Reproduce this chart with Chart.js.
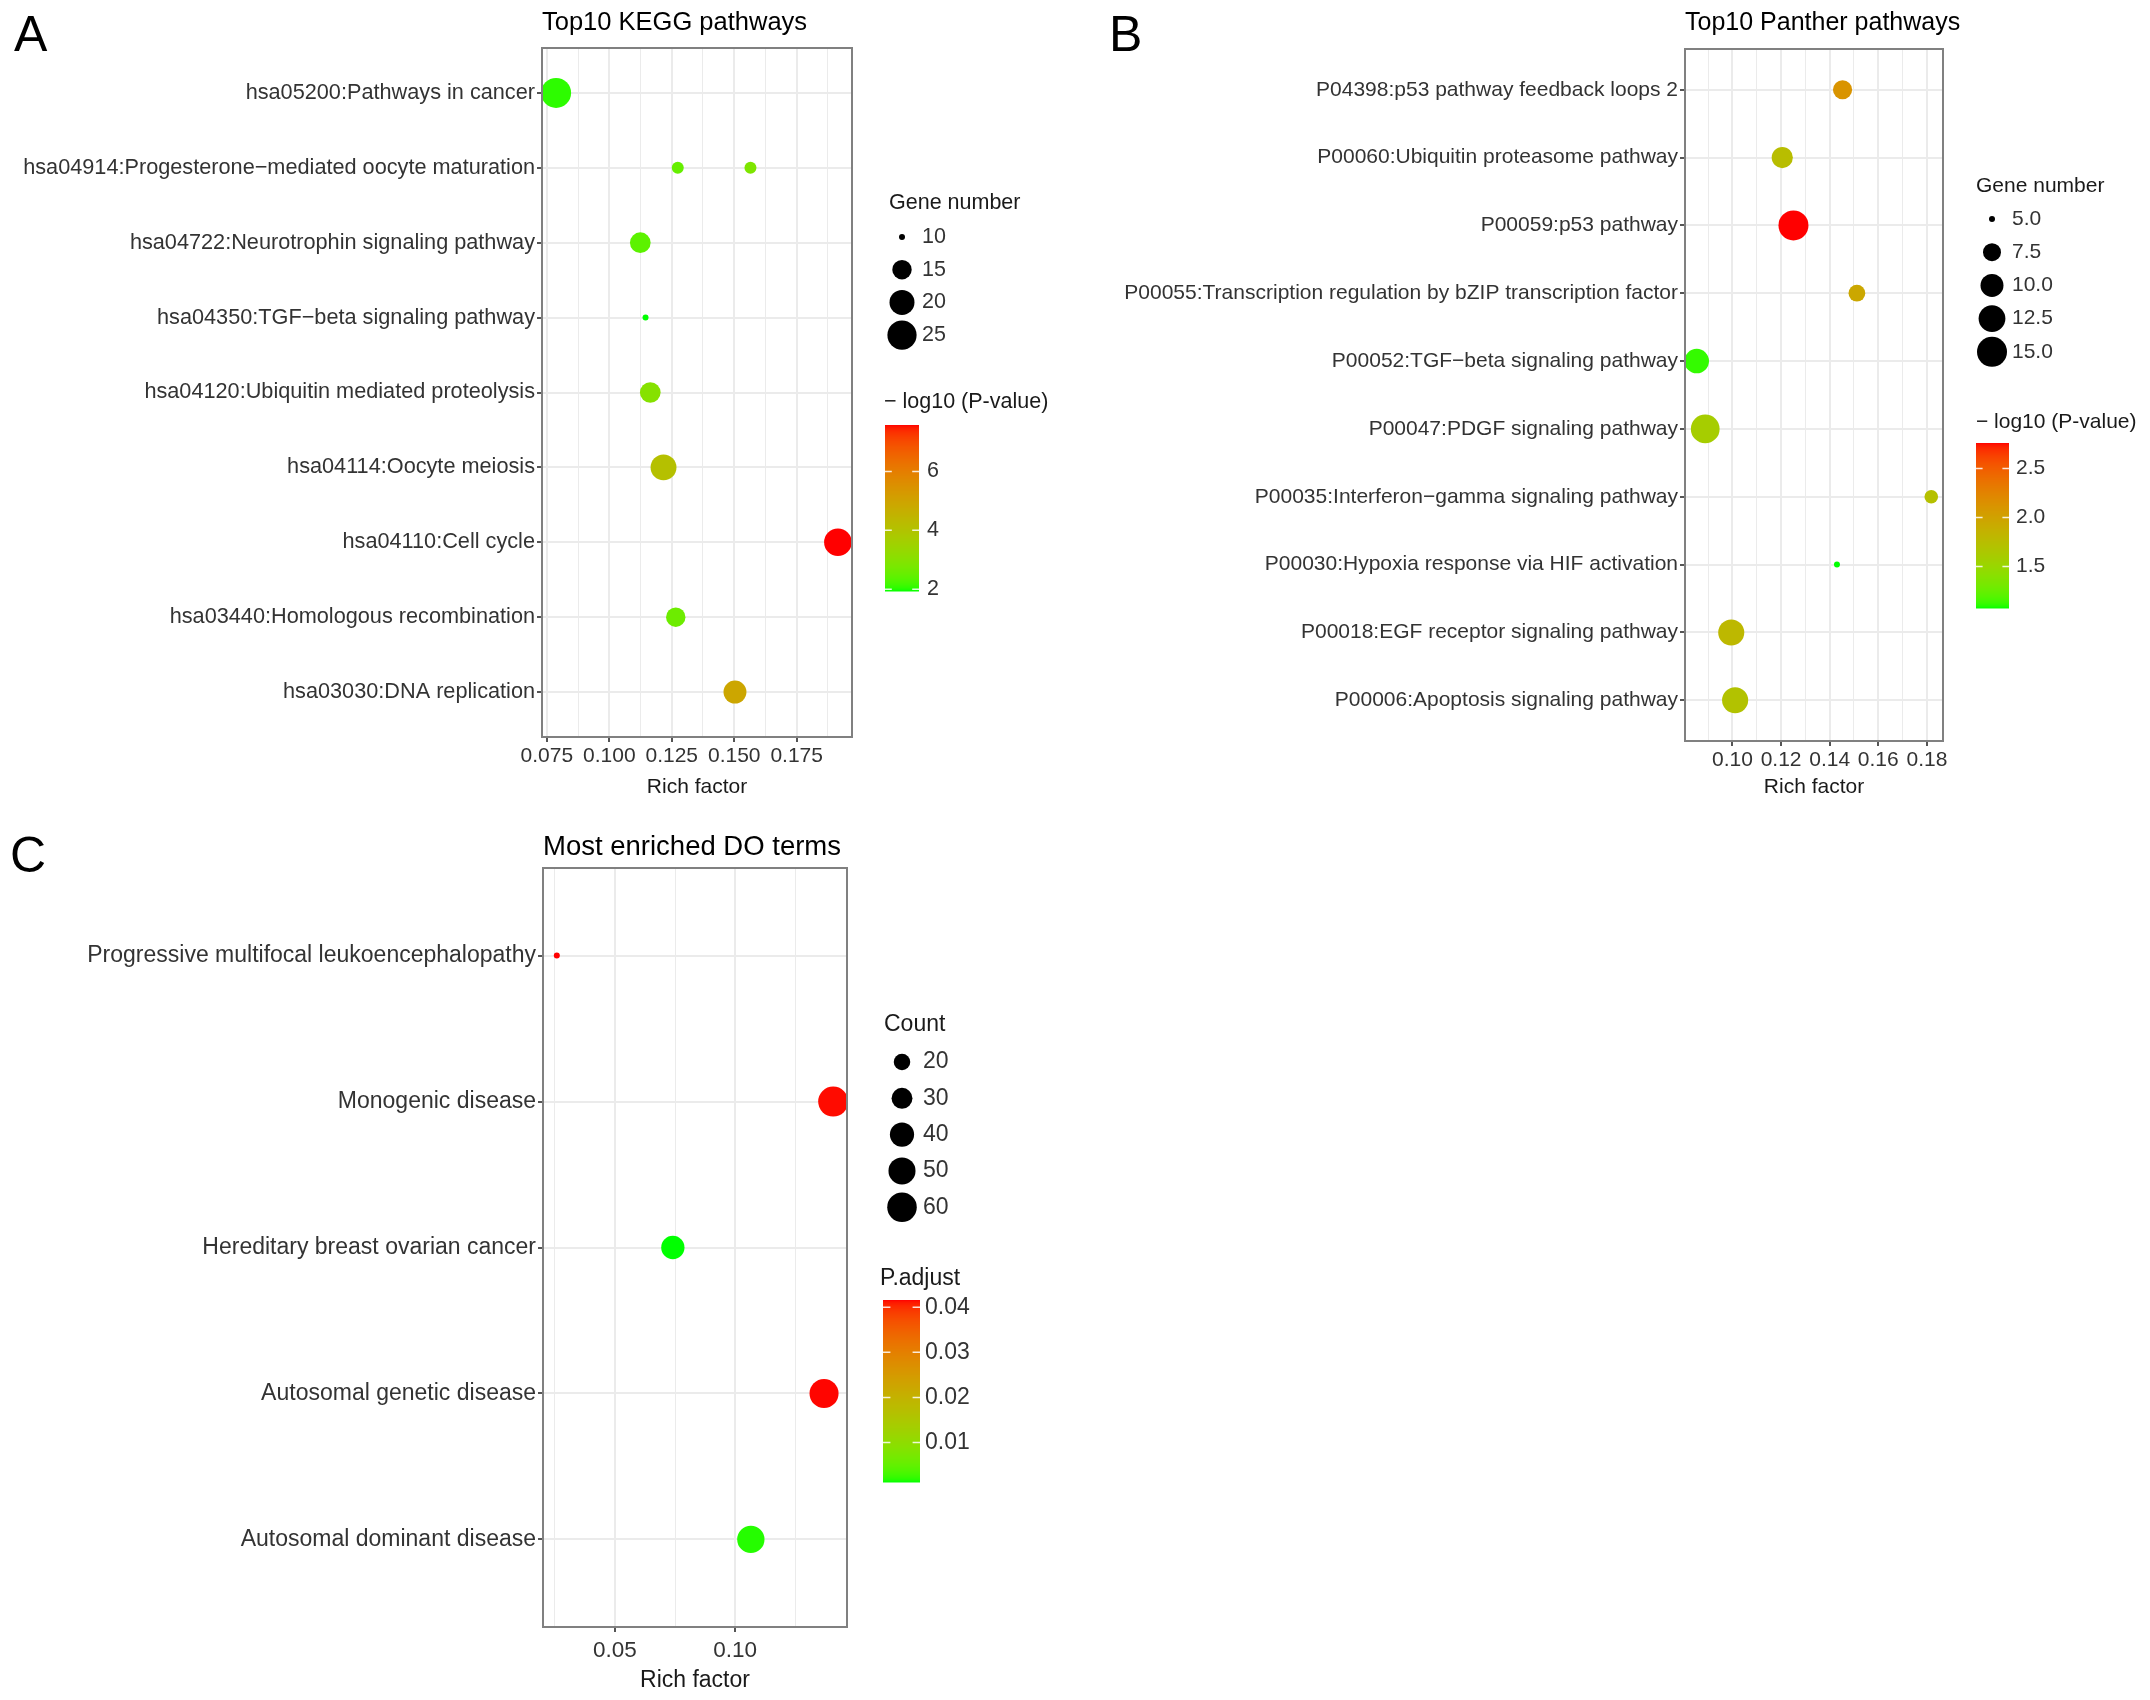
<!DOCTYPE html>
<html>
<head>
<meta charset="utf-8">
<script src="https://cdn.jsdelivr.net/npm/chart.js"></script>
<style>
  html, body { margin: 0; padding: 0; background: #ffffff; }
  #wrap { position: relative; width: 2150px; height: 1700px; background: #ffffff; }
  #wrap canvas { position: absolute; left: 0; top: 0; }
  .panel-letter { position: absolute; font-family: 'Liberation Sans', Arial, Helvetica, sans-serif;
    font-size: 50px; line-height: 50px; color: #000; }
</style>
</head>
<body>
<div id="wrap">
  <canvas id="cA" width="2150" height="1700"></canvas>
  <canvas id="cB" width="2150" height="1700"></canvas>
  <canvas id="cC" width="2150" height="1700"></canvas>
  <div class="panel-letter" style="left:14px;top:9px;">A</div>
  <div class="panel-letter" style="left:1109px;top:9px;">B</div>
  <div class="panel-letter" style="left:10px;top:830px;">C</div>
</div>
<script>
// ---------------- DATA ----------------
// Panel A: Top10 KEGG pathways (one term appears twice)
const keggTitle = 'Top10 KEGG pathways';
const keggTerms = [
  'hsa05200:Pathways in cancer',
  'hsa04914:Progesterone\u2212mediated oocyte maturation',
  'hsa04914:Progesterone\u2212mediated oocyte maturation',
  'hsa04722:Neurotrophin signaling pathway',
  'hsa04350:TGF\u2212beta signaling pathway',
  'hsa04120:Ubiquitin mediated proteolysis',
  'hsa04114:Oocyte meiosis',
  'hsa04110:Cell cycle',
  'hsa03440:Homologous recombination',
  'hsa03030:DNA replication'
];
const keggRichFactor = [0.0787, 0.1274, 0.1565, 0.1124, 0.1145, 0.1164, 0.1217, 0.1915, 0.1266, 0.1503];
const keggGeneNumber = [26, 11, 11, 16, 10, 16, 21, 23, 15, 18];
const keggLogP       = [2.05, 2.5, 2.85, 2.4, 1.94, 3.0, 4.1, 7.58, 2.6, 4.9];
const keggXTicks     = ['0.075', '0.100', '0.125', '0.150', '0.175'];
const keggSizeBreaks = [10, 15, 20, 25];
const keggSizeLabels = ['10', '15', '20', '25'];
const keggColorBreaks = [6, 4, 2];
const keggColorLabels = ['6', '4', '2'];

// Panel B: Top10 Panther pathways
const pantherTitle = 'Top10 Panther pathways';
const pantherTerms = [
  'P04398:p53 pathway feedback loops 2',
  'P00060:Ubiquitin proteasome pathway',
  'P00059:p53 pathway',
  'P00055:Transcription regulation by bZIP transcription factor',
  'P00052:TGF\u2212beta signaling pathway',
  'P00047:PDGF signaling pathway',
  'P00035:Interferon\u2212gamma signaling pathway',
  'P00030:Hypoxia response via HIF activation',
  'P00018:EGF receptor signaling pathway',
  'P00006:Apoptosis signaling pathway'
];
const pantherRichFactor = [0.1453, 0.1205, 0.1251, 0.1512, 0.0853, 0.0888, 0.1818, 0.1430, 0.0995, 0.1011];
const pantherGeneNumber = [8, 9, 15, 7, 11, 14, 6, 5, 12, 12];
const pantherLogP       = [2.12, 1.75, 2.76, 1.95, 1.12, 1.6, 1.72, 1.077, 1.8, 1.7];
const pantherXTicks     = ['0.10', '0.12', '0.14', '0.16', '0.18'];
const pantherSizeBreaks = [5, 7.5, 10, 12.5, 15];
const pantherSizeLabels = ['5.0', '7.5', '10.0', '12.5', '15.0'];
const pantherColorBreaks = [2.5, 2.0, 1.5];
const pantherColorLabels = ['2.5', '2.0', '1.5'];

// Panel C: Most enriched DO terms
const doTitle = 'Most enriched DO terms';
const doTerms = [
  'Progressive multifocal leukoencephalopathy',
  'Monogenic disease',
  'Hereditary breast ovarian cancer',
  'Autosomal genetic disease',
  'Autosomal dominant disease'
];
const doRichFactor = [0.0259, 0.1407, 0.0741, 0.1369, 0.1065];
const doCount      = [10, 62, 37, 58, 51];
const doPAdjust    = [0.0416, 0.0414, 0.00124, 0.0415, 0.0018];
const doXTicks     = ['0.05', '0.10'];
const doSizeBreaks = [20, 30, 40, 50, 60];
const doSizeLabels = ['20', '30', '40', '50', '60'];
const doColorBreaks = [0.04, 0.03, 0.02, 0.01];
const doColorLabels = ['0.04', '0.03', '0.02', '0.01'];

// ---------------- STYLE / HELPERS ----------------
const FONT = "'Liberation Sans', Arial, Helvetica, sans-serif";
const R_MIN = 3, R_MAX = 15;
const W = 2150, H = 1700;

function srgbToLin(c) { c /= 255; return c <= 0.04045 ? c / 12.92 : Math.pow((c + 0.055) / 1.055, 2.4); }
function linToSrgb(c) { c = c <= 0.0031308 ? 12.92 * c : 1.055 * Math.pow(Math.max(c, 0), 1 / 2.4) - 0.055; return Math.round(Math.max(0, Math.min(1, c)) * 255); }
const WX = 0.95047, WY = 1.0, WZ = 1.08883;
function rgbToLab(rgb) {
  const r = srgbToLin(rgb[0]), g = srgbToLin(rgb[1]), b = srgbToLin(rgb[2]);
  const X = (0.4124 * r + 0.3576 * g + 0.1805 * b) / WX;
  const Y = (0.2126 * r + 0.7152 * g + 0.0722 * b) / WY;
  const Z = (0.0193 * r + 0.1192 * g + 0.9505 * b) / WZ;
  const f = t => t > 0.008856 ? Math.cbrt(t) : (7.787 * t + 16 / 116);
  const fx = f(X), fy = f(Y), fz = f(Z);
  return [116 * fy - 16, 500 * (fx - fy), 200 * (fy - fz)];
}
function labToRgb(lab) {
  const fy = (lab[0] + 16) / 116, fx = fy + lab[1] / 500, fz = fy - lab[2] / 200;
  const inv = t => t * t * t > 0.008856 ? t * t * t : (t - 16 / 116) / 7.787;
  const X = inv(fx) * WX, Y = inv(fy) * WY, Z = inv(fz) * WZ;
  const r = 3.2406 * X - 1.5372 * Y - 0.4986 * Z;
  const g = -0.9689 * X + 1.8758 * Y + 0.0415 * Z;
  const b = 0.0557 * X - 0.2040 * Y + 1.0570 * Z;
  return [linToSrgb(r), linToSrgb(g), linToSrgb(b)];
}
const LAB_LOW = rgbToLab([0, 255, 0]);   // "green"
const LAB_HIGH = rgbToLab([255, 0, 0]);  // "red"
function colorScale(min, max) {
  return v => {
    const t = Math.max(0, Math.min(1, (v - min) / (max - min)));
    const lab = LAB_LOW.map((l, i) => l + (LAB_HIGH[i] - l) * t);
    const c = labToRgb(lab);
    return 'rgb(' + c[0] + ',' + c[1] + ',' + c[2] + ')';
  };
}
function sizeScale(min, max) {
  return v => R_MIN + (R_MAX - R_MIN) * Math.sqrt(Math.max(0, (v - min) / (max - min)));
}
const minOf = a => Math.min.apply(null, a), maxOf = a => Math.max.apply(null, a);

const legendCfg = {};

const boxPlugin = {
  id: 'panelBox',
  afterDatasetsDraw(chart) {
    const a = chart.chartArea, ctx = chart.ctx;
    ctx.save();
    ctx.strokeStyle = '#808080';
    ctx.lineWidth = 2;
    ctx.strokeRect(a.left, a.top, a.right - a.left, a.bottom - a.top);
    ctx.restore();
  }
};

const legendPlugin = {
  id: 'dotColorLegend',
  afterDraw(chart) {
    const o = legendCfg[chart.canvas.id];
    if (!o) return;
    const ctx = chart.ctx;
    ctx.save();
    ctx.textBaseline = 'middle';
    ctx.textAlign = 'left';
    // panel title, left-aligned with the panel
    ctx.font = o.titleFs + 'px ' + FONT;
    ctx.fillStyle = '#000';
    ctx.fillText(o.title, chart.chartArea.left, o.titleY);

    ctx.font = o.fs + 'px ' + FONT;
    const s = o.size;
    ctx.fillStyle = '#1a1a1a';
    ctx.fillText(s.title, s.titleX, s.titleY);
    for (let i = 0; i < s.breaks.length; i++) {
      const y = s.y0 + i * s.step;
      ctx.beginPath();
      ctx.arc(s.cx, y, s.fn(s.breaks[i]), 0, Math.PI * 2);
      ctx.fillStyle = '#000';
      ctx.fill();
      ctx.fillStyle = '#333';
      ctx.fillText(s.labels[i], s.labelX, y);
    }
    const c = o.color;
    ctx.fillStyle = '#1a1a1a';
    ctx.fillText(c.title, c.titleX, c.titleY);
    const h = c.bottom - c.top, w = c.right - c.left;
    for (let py = 0; py < h; py++) {
      const t = 1 - (py + 0.5) / h;
      ctx.fillStyle = c.fn(c.min + t * (c.max - c.min));
      ctx.fillRect(c.left, c.top + py, w, 1.5);
    }
    for (let i = 0; i < c.breaks.length; i++) {
      const y = c.bottom - (c.breaks[i] - c.min) / (c.max - c.min) * h;
      ctx.strokeStyle = 'rgba(255,255,255,0.85)';
      ctx.lineWidth = 1.5;
      ctx.beginPath();
      ctx.moveTo(c.left, y); ctx.lineTo(c.left + w * 0.2, y);
      ctx.moveTo(c.right - w * 0.2, y); ctx.lineTo(c.right, y);
      ctx.stroke();
      ctx.fillStyle = '#333';
      ctx.fillText(c.labels[i], c.labelX, y);
    }
    ctx.restore();
  }
};

function buildPanel(p) {
  const cats = [];
  p.terms.forEach(t => { if (cats.indexOf(t) < 0) cats.push(t); });
  const xMin0 = minOf(p.rich), xMax0 = maxOf(p.rich), span = xMax0 - xMin0;
  const xMin = xMin0 - 0.05 * span, xMax = xMax0 + 0.05 * span;
  const majors = p.xTicks.map(Number);
  const step = majors[1] - majors[0];
  const allTicks = [];
  for (let k = -2; k <= majors.length + 2; k++) {
    const major = majors[0] + k * step;
    const minor = major + step / 2;
    if (major >= xMin - 1e-9 && major <= xMax + 1e-9) allTicks.push(major);
    if (minor >= xMin - 1e-9 && minor <= xMax + 1e-9) allTicks.push(minor);
  }
  allTicks.sort((a, b) => a - b);
  const isMajor = v => majors.some(m => Math.abs(m - v) < 1e-9);
  const labelOf = v => { const i = majors.findIndex(m => Math.abs(m - v) < 1e-9); return i >= 0 ? p.xTicks[i] : ''; };

  const sFn = sizeScale(minOf(p.size), maxOf(p.size));
  const cMin = minOf(p.color), cMax = maxOf(p.color);
  const cFn = colorScale(cMin, cMax);

  const data = p.terms.map((t, i) => ({ x: p.rich[i], y: cats.indexOf(t), r: sFn(p.size[i]) }));
  const colors = p.color.map(cFn);

  const f = p.fonts;
  legendCfg[p.id] = {
    fs: f.legend, titleFs: f.title, title: p.title, titleY: p.titleY,
    size: Object.assign({ fn: sFn, breaks: p.sizeBreaks, labels: p.sizeLabels, title: p.sizeTitle }, p.sizeLayout),
    color: Object.assign({ fn: cFn, min: cMin, max: cMax, breaks: p.colorBreaks, labels: p.colorLabels, title: p.colorTitle }, p.colorLayout)
  };

  const area = p.area;
  const xh = p.xTitleOffset + 0.6 * f.axisTitle;
  new Chart(document.getElementById(p.id), {
    type: 'bubble',
    data: { datasets: [{ data: data, backgroundColor: colors, borderWidth: 0, hoverBorderWidth: 0, clip: 0 }] },
    plugins: [boxPlugin, legendPlugin],
    options: {
      responsive: false,
      maintainAspectRatio: false,
      devicePixelRatio: 1,
      animation: false,
      events: [],
      layout: {
        autoPadding: false,
        padding: { left: 0, top: area.top, right: W - area.right, bottom: H - area.bottom - xh }
      },
      plugins: {
        legend: { display: false },
        tooltip: { enabled: false },
        title: { display: false }
      },
      scales: {
        x: {
          type: 'linear', position: 'bottom', min: xMin, max: xMax,
          afterBuildTicks: ax => { ax.ticks = allTicks.map(v => ({ value: v })); },
          afterFit: ax => { ax.height = xh; },
          border: { display: false },
          grid: {
            color: '#ebebeb',
            lineWidth: ctx => (ctx.tick && isMajor(ctx.tick.value)) ? 2 : 1,
            tickColor: ctx => (ctx.tick && isMajor(ctx.tick.value)) ? '#555' : 'rgba(0,0,0,0)',
            tickWidth: 2, tickLength: 5, drawTicks: true
          },
          ticks: {
            autoSkip: false, maxRotation: 0, minRotation: 0, padding: p.xTickPad,
            color: '#333', font: { family: FONT, size: f.tick, lineHeight: 1.2 },
            callback: v => labelOf(v)
          },
          title: { display: true, text: 'Rich factor', color: '#1a1a1a', font: { family: FONT, size: f.axisTitle, lineHeight: 1.2 }, padding: 0 }
        },
        y: {
          type: 'linear', reverse: true, min: -0.6, max: cats.length - 0.4,
          afterBuildTicks: ax => { ax.ticks = cats.map((c, i) => ({ value: i })); },
          afterFit: ax => { ax.width = area.left; },
          border: { display: false },
          grid: { color: '#ebebeb', lineWidth: 2, tickColor: '#555', tickWidth: 2, tickLength: 5 },
          ticks: {
            autoSkip: false, padding: 2, color: '#333', font: { family: FONT, size: f.label },
            callback: v => cats[Math.round(v)] || ''
          }
        }
      }
    }
  });
}

try {
buildPanel({
  id: 'cA', title: keggTitle, terms: keggTerms, rich: keggRichFactor, size: keggGeneNumber, color: keggLogP,
  xTicks: keggXTicks, sizeBreaks: keggSizeBreaks, sizeLabels: keggSizeLabels, sizeTitle: 'Gene number',
  colorBreaks: keggColorBreaks, colorLabels: keggColorLabels, colorTitle: '\u2212 log10 (P-value)',
  fonts: { label: 21.7, tick: 21, axisTitle: 21, title: 25.5, legend: 21.5 },
  titleY: 23, xTitleOffset: 50, xTickPad: 2,
  area: { left: 542, right: 852, top: 48, bottom: 737 },
  sizeLayout: { titleX: 889, titleY: 203, cx: 902, y0: 237, step: 32.7, labelX: 922 },
  colorLayout: { titleX: 884, titleY: 402, left: 885, right: 919, top: 425, bottom: 591, labelX: 927 }
});

buildPanel({
  id: 'cB', title: pantherTitle, terms: pantherTerms, rich: pantherRichFactor, size: pantherGeneNumber, color: pantherLogP,
  xTicks: pantherXTicks, sizeBreaks: pantherSizeBreaks, sizeLabels: pantherSizeLabels, sizeTitle: 'Gene number',
  colorBreaks: pantherColorBreaks, colorLabels: pantherColorLabels, colorTitle: '\u2212 log10 (P-value)',
  fonts: { label: 21, tick: 21, axisTitle: 21, title: 25, legend: 21 },
  titleY: 23, xTitleOffset: 46, xTickPad: 2,
  area: { left: 1685, right: 1943, top: 49, bottom: 741 },
  sizeLayout: { titleX: 1976, titleY: 186, cx: 1992, y0: 219, step: 33.2, labelX: 2012 },
  colorLayout: { titleX: 1976, titleY: 422, left: 1976, right: 2009, top: 443, bottom: 608, labelX: 2016 }
});

buildPanel({
  id: 'cC', title: doTitle, terms: doTerms, rich: doRichFactor, size: doCount, color: doPAdjust,
  xTicks: doXTicks, sizeBreaks: doSizeBreaks, sizeLabels: doSizeLabels, sizeTitle: 'Count',
  colorBreaks: doColorBreaks, colorLabels: doColorLabels, colorTitle: 'P.adjust',
  fonts: { label: 23, tick: 22.5, axisTitle: 23, title: 27.5, legend: 23 },
  titleY: 847, xTitleOffset: 54, xTickPad: 5,
  area: { left: 543, right: 847, top: 868, bottom: 1627 },
  sizeLayout: { titleX: 884, titleY: 1025, cx: 902, y0: 1062, step: 36.3, labelX: 923 },
  colorLayout: { titleX: 880, titleY: 1279, left: 883, right: 920, top: 1300, bottom: 1482, labelX: 925 }
});
} catch (e) { console.error(e); }
</script>
</body>
</html>
